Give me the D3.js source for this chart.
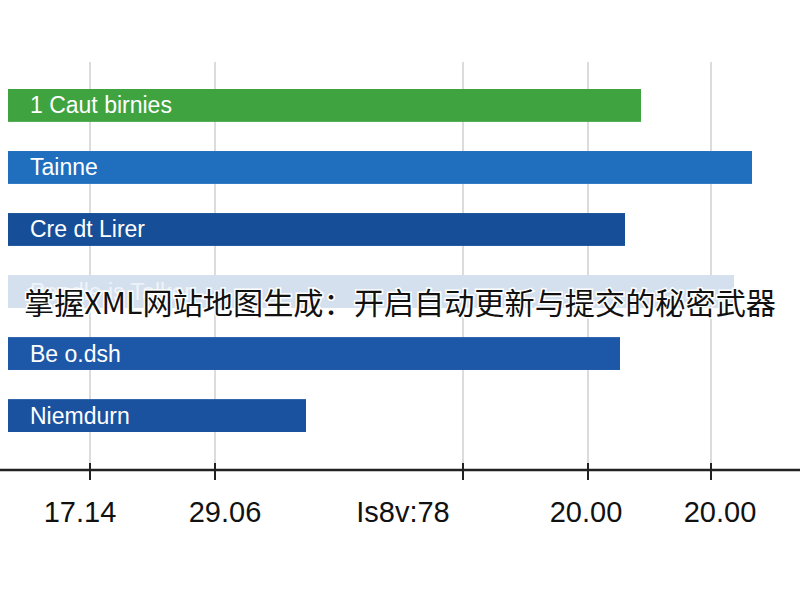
<!DOCTYPE html>
<html><head><meta charset="utf-8">
<script src="https://cdn.jsdelivr.net/npm/d3@7"></script>
<style>body{margin:0;background:#fff}</style>
</head><body>
<svg id="chart" width="800" height="600"></svg>
<script>
const categories = ["1 Caut birnies", "Tainne", "Cre dt Lirer", "Peadle is Talker", "Be o.dsh", "Niemdurn"];
const values = [633, 744, 617, 726, 612, 298];
const colors = ["#3fa33f", "#1f6fbe", "#164f98", "#d5e0ee", "#1d58a8", "#1a52a0"];
const tickValues = [82, 207, 455, 580, 703];
const tickLabels = ["17.14", "29.06", "Is8v:78", "20.00", "20.00"];
const labelOffsets = [-10, 10, -60, -2, 9];
const title = "掌握XML网站地图生成：开启自动更新与提交的秘密武器";

const svg = d3.select("#chart");
const x = d3.scaleLinear().domain([0, 792]).range([8, 800]);
const y = d3.scaleBand().domain(categories).range([89, 432]).paddingInner(0.47).paddingOuter(0);

svg.selectAll(".grid").data(tickValues).join("line")
  .attr("x1", d => x(d)).attr("x2", d => x(d))
  .attr("y1", 62).attr("y2", 470)
  .attr("stroke", "#d0d0d0").attr("stroke-width", 1.5);

svg.selectAll(".bar").data(values).join("rect")
  .attr("x", x(0)).attr("y", (d, i) => y(categories[i]))
  .attr("width", d => x(d) - x(0)).attr("height", y.bandwidth())
  .attr("fill", (d, i) => colors[i]);

svg.selectAll(".blabel").data(categories).join("text")
  .attr("x", 30).attr("y", d => y(d) + y.bandwidth() / 2 + 8)
  .attr("fill", (d, i) => i === 3 ? "#eef3f9" : "#fff")
  .attr("font-family", "Liberation Sans, Arial").attr("font-size", 23)
  .text(d => d);

svg.append("line").attr("x1", 0).attr("x2", 800).attr("y1", 470).attr("y2", 470)
  .attr("stroke", "#222").attr("stroke-width", 2.5);
svg.selectAll(".tick").data(tickValues).join("line")
  .attr("x1", d => x(d)).attr("x2", d => x(d)).attr("y1", 463).attr("y2", 480)
  .attr("stroke", "#222").attr("stroke-width", 2);
svg.selectAll(".tlabel").data(tickLabels).join("text")
  .attr("x", (d, i) => x(tickValues[i]) + labelOffsets[i]).attr("y", 522)
  .attr("text-anchor", "middle").attr("fill", "#111")
  .attr("font-family", "Liberation Sans, Arial").attr("font-size", 29)
  .text(d => d);

svg.append("text").attr("x", 400).attr("y", 314).attr("text-anchor", "middle")
  .attr("font-family", "Noto Sans CJK SC").attr("font-size", 30).attr("fill", "#111")
  .attr("textLength", 752).attr("lengthAdjust", "spacingAndGlyphs")
  .attr("stroke", "#fff").attr("stroke-width", 3).attr("paint-order", "stroke")
  .text(title);
</script>
</body></html>
